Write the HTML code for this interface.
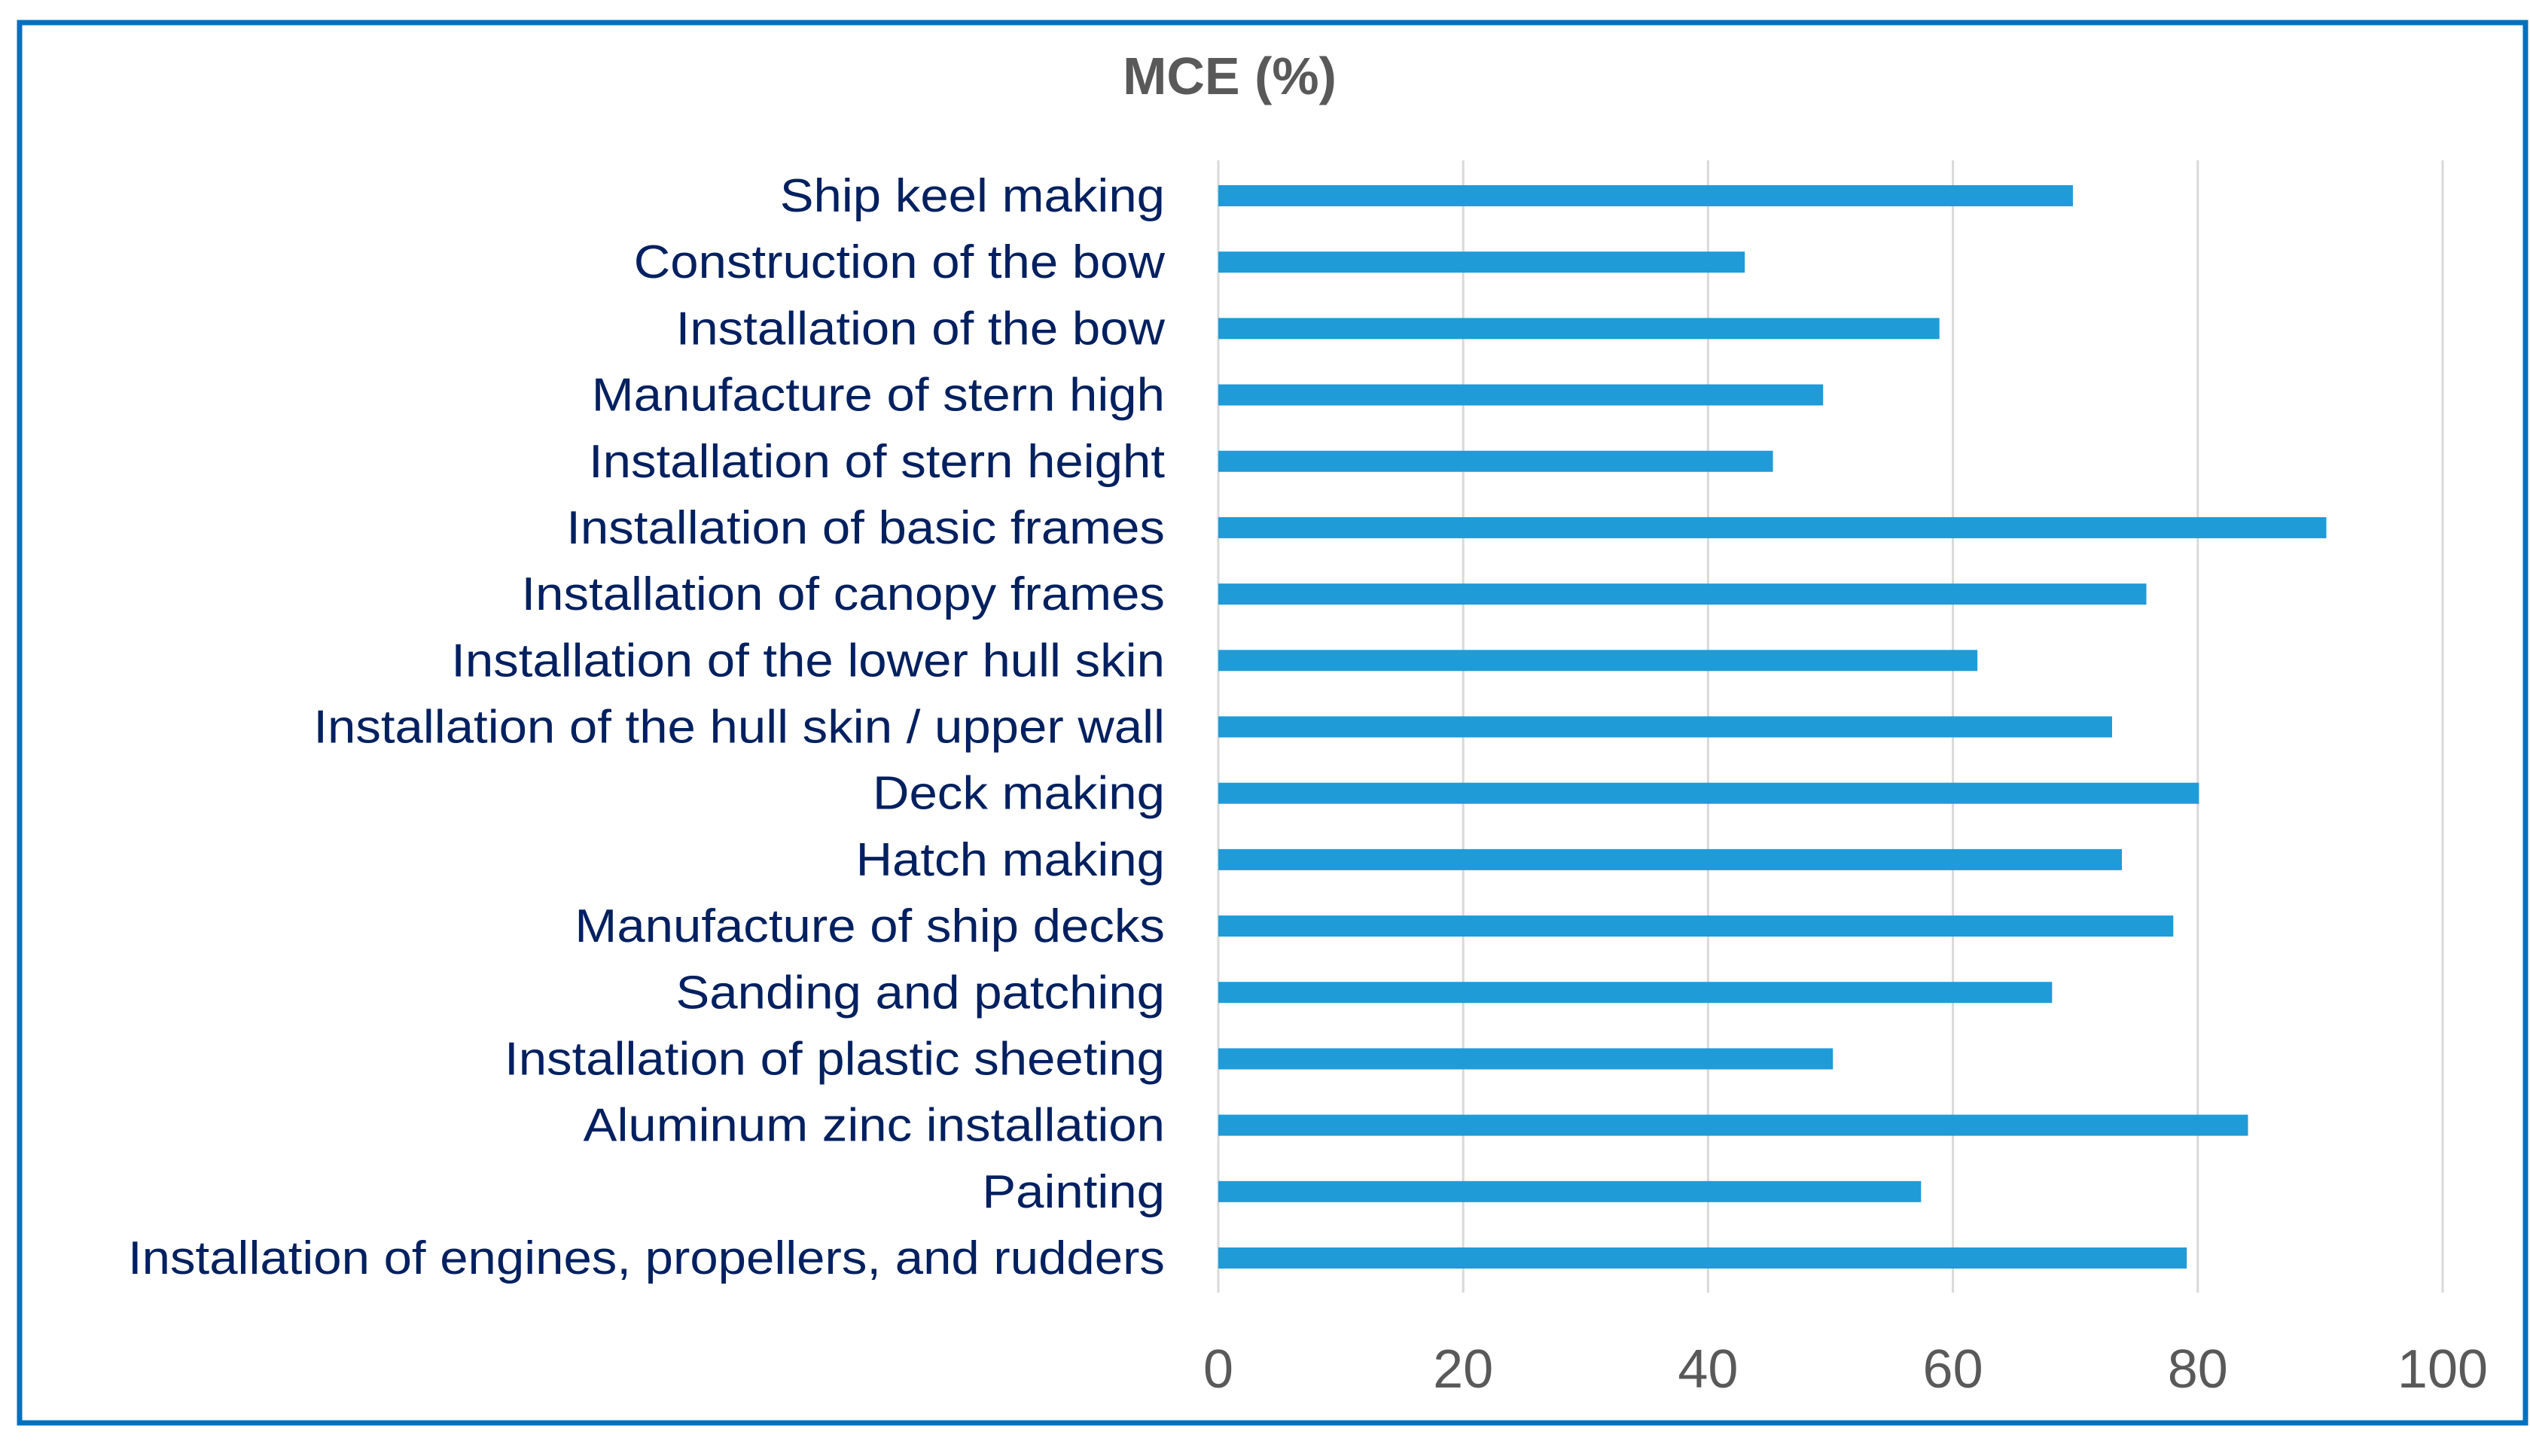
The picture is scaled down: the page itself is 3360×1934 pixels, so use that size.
<!DOCTYPE html>
<html><head><meta charset="utf-8"><style>
html,body{margin:0;padding:0;background:#fff;}
svg{display:block;}
</style></head><body>
<svg id="chart" width="3360" height="1934" viewBox="0 0 3360 1934" xmlns="http://www.w3.org/2000/svg">
<rect x="0" y="0" width="3360" height="1934" fill="#fff"/>
<rect x="26" y="30" width="3328" height="1860" fill="none" stroke="#0070c0" stroke-width="7"/>
<text x="1633" y="125" text-anchor="middle" font-family="'Liberation Sans',sans-serif" font-weight="bold" font-size="70" fill="#595959">MCE (%)</text>
<g id="grid"></g><g id="bars"></g><g id="labels"></g><g id="ticks"></g>
</svg>
<script>
const categories = ["Ship keel making","Construction of the bow","Installation of the bow","Manufacture of stern high","Installation of stern height","Installation of basic frames","Installation of canopy frames","Installation of the lower hull skin","Installation of the hull skin / upper wall","Deck making","Hatch making","Manufacture of ship decks","Sanding and patching","Installation of plastic sheeting","Aluminum zinc installation","Painting","Installation of engines, propellers, and rudders"];
const values = [69.8,43,58.9,49.4,45.3,90.5,75.8,62,73,80.1,73.8,78,68.1,50.2,84.1,57.4,79.1];
const tickValues = [0,20,40,60,80,100];
const tickLabels = ["0","20","40","60","80","100"];

const NS="http://www.w3.org/2000/svg";
const x0=1618, x1=3244, yFirst=260, yLast=1671;
function xScale(v){return x0+(v/100)*(x1-x0);}
function yScale(i){return yFirst+i*(yLast-yFirst)/(categories.length-1);}
function mk(tag,attrs,parent){const e=document.createElementNS(NS,tag);for(const k in attrs)e.setAttribute(k,attrs[k]);document.getElementById(parent).appendChild(e);return e;}

tickValues.forEach((t,i)=>{
  const g=mk('line',{x1:xScale(t),x2:xScale(t),y1:213,y2:1717,stroke:'#d9d9d9','stroke-width':3},'grid');
  
  
  const tl=mk('text',{x:xScale(t),y:1843,'text-anchor':'middle','font-family':"'Liberation Sans',sans-serif",'font-size':72,fill:'#595959'},'ticks');
  tl.textContent=tickLabels[i];
  
  
});

const labelEls=[];
categories.forEach((c,i)=>{
  const b=mk('rect',{x:xScale(0),y:yScale(i)-14,width:xScale(values[i])-xScale(0),height:28,fill:'#1f9bd8'},'bars');
  
  
  const t=mk('text',{x:1547,y:yScale(i)+21,'text-anchor':'end','font-family':"'Liberation Sans',sans-serif",'font-size':62,fill:'#002060'},'labels');
  t.textContent=c;
  
  
  labelEls.push(t);
});
let maxW=0;labelEls.forEach(t=>{maxW=Math.max(maxW,t.getComputedTextLength());});
const k=maxW>0?1377/maxW:1;
labelEls.forEach(t=>{const w=t.getComputedTextLength();t.setAttribute('textLength',w*k);t.setAttribute('lengthAdjust','spacingAndGlyphs');});
</script>
</body></html>
